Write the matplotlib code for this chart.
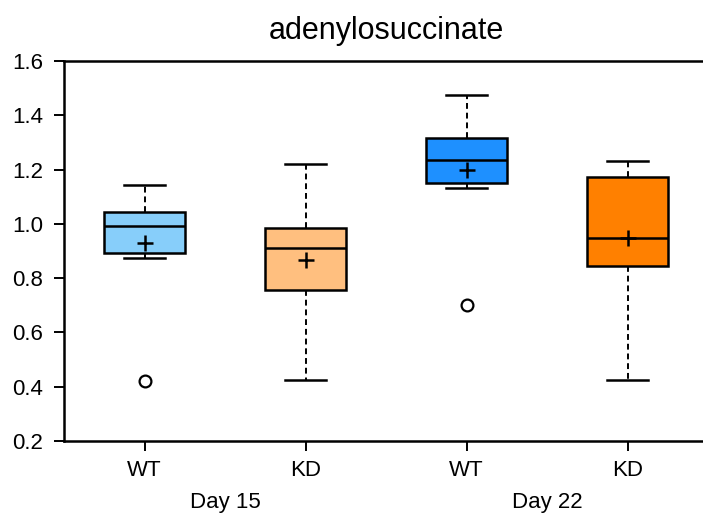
import matplotlib
matplotlib.use("Agg")
import matplotlib.pyplot as plt

plt.rcParams['font.family'] = ['Liberation Sans', 'DejaVu Sans']

title = "adenylosuccinate"
tick_labels = ["WT", "KD", "WT", "KD"]
groups = ["Day 15", "Day 22"]
whislo = [0.874, 0.425, 1.132, 0.425]
q1 = [0.893, 0.755, 1.149, 0.846]
med = [0.992, 0.910, 1.235, 0.949]
q3 = [1.045, 0.983, 1.316, 1.174]
whishi = [1.144, 1.220, 1.476, 1.233]
means = [0.928, 0.867, 1.198, 0.949]
fliers = [[0.422], [], [0.700], []]
colors = ["#87CEFA", "#FFBF7F", "#1E90FF", "#FF8000"]

stats = []
for i in range(4):
    stats.append(dict(whislo=whislo[i], q1=q1[i], med=med[i], q3=q3[i],
                      whishi=whishi[i], mean=means[i], fliers=fliers[i],
                      label=tick_labels[i]))

fig = plt.figure(figsize=(7.03, 5.19), dpi=100)
ax = fig.add_axes([64/703, 1-441/519, 644/703, 380/519])

pos = [1, 2, 3, 4]
bp = ax.bxp(stats, positions=pos, widths=0.5, patch_artist=True, showmeans=True,
            boxprops=dict(linewidth=1.8, edgecolor='black'),
            medianprops=dict(color='black', linewidth=1.8),
            whiskerprops=dict(color='black', linewidth=1.4, linestyle=(0, (3, 2))),
            capprops=dict(color='black', linewidth=1.8),
            capwidths=0.25,
            meanprops=dict(marker='+', markeredgecolor='black', markersize=11, markeredgewidth=1.8),
            flierprops=dict(marker='o', markerfacecolor='none', markeredgecolor='black',
                            markersize=8.5, markeredgewidth=1.6))
for patch, c in zip(bp['boxes'], colors):
    patch.set_facecolor(c)

ax.set_xlim(0.5, 4.5)
ax.set_ylim(0.2, 1.6)
yt = [0.2, 0.4, 0.6, 0.8, 1.0, 1.2, 1.4, 1.6]
ax.set_yticks(yt)
ax.set_yticklabels([f"{v:.1f}" for v in yt])
ax.set_xticks(pos)
ax.set_xticklabels(tick_labels)
ax.tick_params(axis='both', labelsize=16, length=7, width=1.4, direction='out')
ax.tick_params(axis='y', pad=8)
ax.tick_params(axis='x', pad=7)
for s in ax.spines.values():
    s.set_linewidth(1.8)

ax.text(1.5, -0.176, groups[0], transform=ax.get_xaxis_transform(), ha='center', va='baseline', fontsize=16)
ax.text(3.5, -0.176, groups[1], transform=ax.get_xaxis_transform(), ha='center', va='baseline', fontsize=16)
ax.set_title(title, fontsize=22, pad=16)

fig.savefig("out.png", dpi=100)
